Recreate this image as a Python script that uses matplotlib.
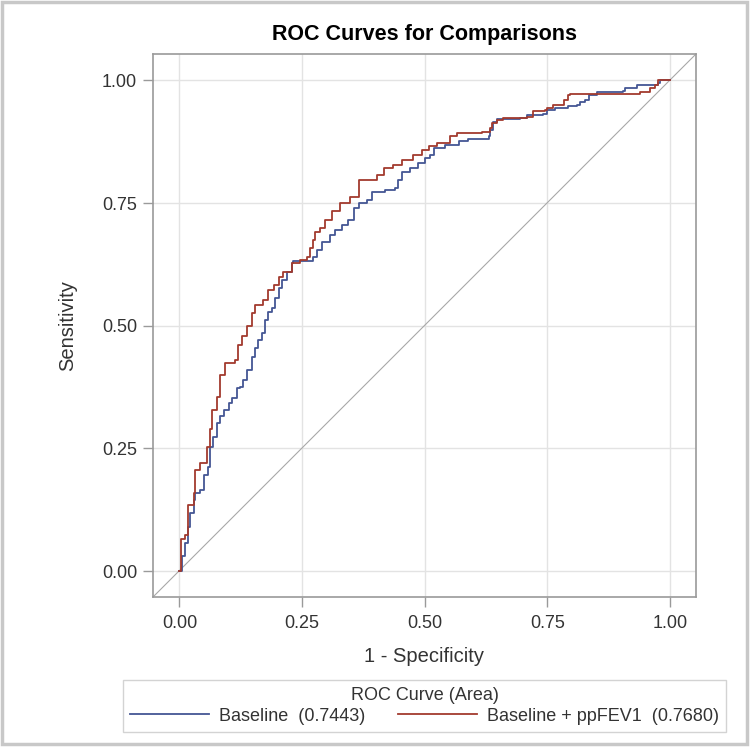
import matplotlib.pyplot as plt
from matplotlib.patches import Rectangle

plt.rcParams["font.family"] = ["Liberation Sans", "DejaVu Sans"]

# ROC vertices (1 - specificity, sensitivity)
base_fpr = [0.0, 0.005, 0.012, 0.018, 0.022, 0.029, 0.032, 0.042, 0.049, 0.059,
            0.063, 0.069, 0.076, 0.083, 0.09, 0.1, 0.107, 0.117, 0.124, 0.13,
            0.137, 0.147, 0.154, 0.161, 0.168, 0.175, 0.181, 0.188, 0.195, 0.202,
            0.209, 0.219, 0.229, 0.232, 0.26, 0.273, 0.28, 0.29, 0.307, 0.317,
            0.331, 0.344, 0.355, 0.365, 0.382, 0.392, 0.419, 0.44, 0.446, 0.453,
            0.47, 0.487, 0.5, 0.511, 0.518, 0.541, 0.569, 0.589, 0.63, 0.633,
            0.64, 0.647, 0.694, 0.708, 0.742, 0.749, 0.766, 0.793, 0.81, 0.817,
            0.827, 0.834, 0.851, 0.905, 0.908, 0.932, 0.976, 0.98, 1.0]
base_tpr = [0.0, 0.03, 0.057, 0.09, 0.118, 0.145, 0.159, 0.165, 0.196, 0.213,
            0.253, 0.274, 0.301, 0.315, 0.328, 0.342, 0.352, 0.373, 0.376, 0.39,
            0.41, 0.437, 0.454, 0.471, 0.485, 0.512, 0.529, 0.536, 0.556, 0.576,
            0.593, 0.61, 0.627, 0.631, 0.631, 0.641, 0.655, 0.671, 0.685, 0.695,
            0.705, 0.716, 0.74, 0.75, 0.757, 0.773, 0.777, 0.78, 0.797, 0.814,
            0.821, 0.831, 0.841, 0.848, 0.862, 0.869, 0.876, 0.88, 0.886, 0.899,
            0.916, 0.921, 0.923, 0.93, 0.932, 0.94, 0.943, 0.947, 0.95, 0.957,
            0.96, 0.97, 0.977, 0.979, 0.984, 0.991, 0.994, 1.0, 1.0]

fev_fpr = [0.0, 0.003, 0.012, 0.018, 0.029, 0.032, 0.042, 0.056, 0.063, 0.066,
           0.076, 0.083, 0.093, 0.114, 0.12, 0.127, 0.137, 0.147, 0.154, 0.171,
           0.181, 0.192, 0.202, 0.212, 0.229, 0.246, 0.26, 0.266, 0.273, 0.277,
           0.287, 0.297, 0.31, 0.327, 0.348, 0.365, 0.399, 0.402, 0.416, 0.436,
           0.453, 0.477, 0.494, 0.508, 0.525, 0.552, 0.565, 0.616, 0.633, 0.637,
           0.647, 0.66, 0.708, 0.721, 0.745, 0.749, 0.762, 0.783, 0.793, 0.796,
           0.935, 0.939, 0.959, 0.969, 0.976, 1.0]
fev_tpr = [0.0, 0.065, 0.073, 0.135, 0.159, 0.206, 0.22, 0.253, 0.29, 0.328,
           0.355, 0.40, 0.424, 0.43, 0.46, 0.48, 0.50, 0.525, 0.542, 0.553,
           0.573, 0.583, 0.60, 0.61, 0.627, 0.634, 0.641, 0.658, 0.675, 0.692,
           0.699, 0.716, 0.733, 0.75, 0.763, 0.797, 0.797, 0.807, 0.821, 0.828,
           0.838, 0.848, 0.858, 0.867, 0.872, 0.886, 0.893, 0.896, 0.903, 0.913,
           0.92, 0.923, 0.926, 0.937, 0.94, 0.943, 0.95, 0.96, 0.97, 0.972,
           0.972, 0.977, 0.984, 0.991, 1.0, 1.0]

labels = ["Baseline  (0.7443)", "Baseline + ppFEV1  (0.7680)"]
ticks = [0.0, 0.25, 0.5, 0.75, 1.0]

BLUE = "#445694"
RED = "#A23A2E"
FRAME = "#9a9a9a"
TXT = "#333333"

fig = plt.figure(figsize=(7.5, 7.5), dpi=100)
fig.patches.append(Rectangle((0.002, 0.008), 0.994, 0.99, transform=fig.transFigure,
                             fill=False, edgecolor="#c8c8c8", linewidth=2.5))

ax = fig.add_axes([0.204, 0.204, 0.724, 0.724])
ax.plot([-0.054, 1.053], [-0.053, 1.054], color="#a8a8a8", lw=0.8, zorder=2)
ax.plot(base_fpr, base_tpr, drawstyle="steps-post", color=BLUE, lw=1.3,
        label=labels[0], zorder=3)
ax.plot(fev_fpr, fev_tpr, drawstyle="steps-post", color=RED, lw=1.3,
        label=labels[1], zorder=4)

ax.set_xlim(-0.054, 1.053)
ax.set_ylim(-0.053, 1.054)
ax.set_xticks(ticks)
ax.set_yticks(ticks)
ax.set_xticklabels([f"{t:.2f}" for t in ticks])
ax.set_yticklabels([f"{t:.2f}" for t in ticks])
ax.grid(True, color="#e3e3e3", lw=1.0)
ax.set_axisbelow(True)
for s in ax.spines.values():
    s.set_color(FRAME)
    s.set_linewidth(1.2)
ax.tick_params(colors=FRAME, labelcolor=TXT, labelsize=13, length=7.2, width=1.0)
ax.tick_params(axis="x", pad=5.5)
ax.tick_params(axis="y", pad=4.3)

ax.set_title("ROC Curves for Comparisons", fontsize=15.5, fontweight="bold", pad=10)
ax.set_xlabel("1 - Specificity", fontsize=14.5, color=TXT, labelpad=11)
ax.set_ylabel("Sensitivity", fontsize=14.5, color=TXT, labelpad=18)

leg = fig.legend(loc="lower center", bbox_to_anchor=(0.566, 0.024), ncol=2,
                 title="ROC Curve (Area)", fontsize=13, title_fontsize=13,
                 frameon=True, fancybox=False, edgecolor="#c8c8c8",
                 handlelength=4.4, handletextpad=0.55, columnspacing=1.8,
                 borderpad=0.4, labelspacing=0.2, borderaxespad=0)
leg.get_frame().set_linewidth(1.0)
for t in leg.get_texts():
    t.set_color(TXT)
leg.get_title().set_color(TXT)
for h in leg.get_lines():
    h.set_linewidth(1.3)

fig.savefig("out.png", dpi=100)
